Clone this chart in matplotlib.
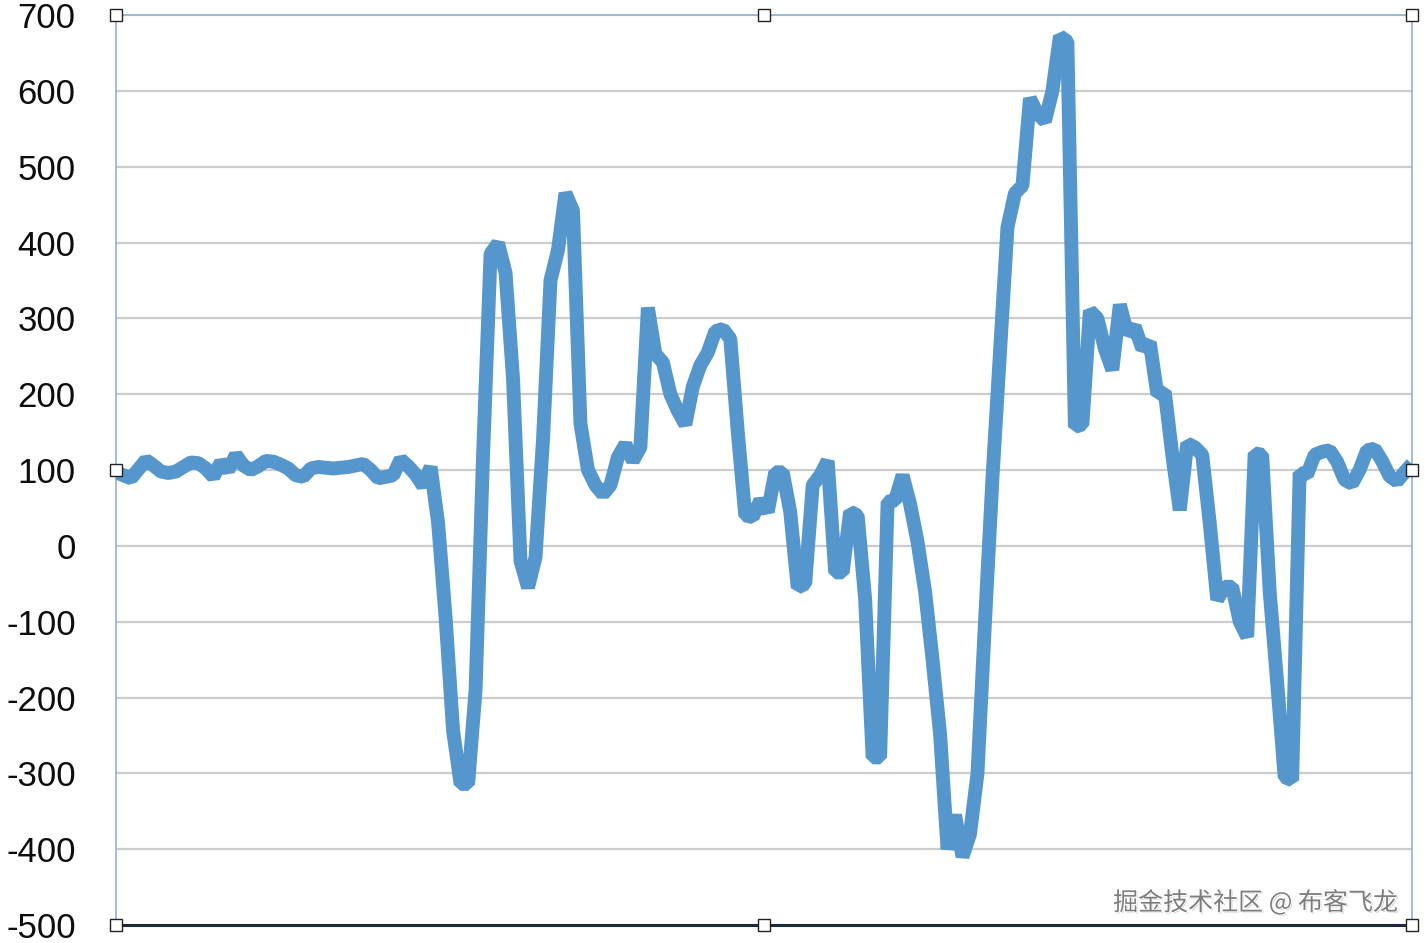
import numpy as np
import matplotlib.pyplot as plt
import matplotlib.patheffects as pe

plt.rcParams['font.family'] = ['Liberation Sans', 'DejaVu Sans']

# sampled signal (evenly spaced samples)
values = [
    97, 93, 89, 101, 113, 106, 98, 96, 98, 104,
    110, 109, 102, 91, 110, 100, 120, 106, 100, 105,
    112, 111, 107, 102, 93, 91, 102, 104, 103, 102,
    103, 104, 106, 108, 100, 89, 91, 93, 114, 105,
    94, 79, 104, 30, -95, -244, -314, -314, -190, 120,
    385, 399, 360, 220, -20, -55, -15, 140, 350, 390,
    465, 442, 161, 100, 80, 68, 80, 117, 134, 112,
    130, 314, 253, 242, 200, 178, 160, 210, 238, 255,
    283, 286, 273, 150, 40, 38, 60, 45, 97, 97,
    45, -55, -50, 80, 93, 112, -35, -35, 45, 40,
    -70, -279, -279, 58, 60, 93, 55, 5, -60, -150,
    -248, -400, -355, -410, -380, -300, -100, 90, 254, 420,
    465, 475, 590, 570, 560, 600, 672, 665, 157, 160,
    310, 300, 260, 232, 318, 280, 289, 260, 268, 200,
    203, 120, 47, 135, 130, 120, 30, -71, -54, -54,
    -100, -120, 122, 120, -60, -180, -305, -309, 96, 94,
    120, 124, 126, 111, 87, 82, 100, 126, 128, 112,
    92, 85, 97, 108,
]
y_ticks = list(range(-500, 701, 100))
watermark = "掘金技术社区 @ 布客飞龙"

x = np.arange(len(values))

fig = plt.figure(figsize=(14.25, 9.43), dpi=100)
ax = fig.add_axes([116 / 1425, 1 - 925 / 943, (1412 - 116) / 1425, (925 - 15) / 943])

ax.plot(x, values, color='#5597cd', linewidth=10,
        solid_joinstyle='bevel', solid_capstyle='butt', zorder=3)

ax.set_xlim(0, len(values) - 1)
ax.set_ylim(-500, 700)
ax.set_yticks(y_ticks)
ax.set_yticklabels([str(v) for v in y_ticks])
ax.set_xticks([])
ax.tick_params(axis='y', length=0, pad=29, labelsize=25, labelcolor='#0d0d0d')

ax.grid(axis='y', color='#cccccc', linewidth=1.6)
ax.set_axisbelow(True)

for s in ['left', 'right', 'top']:
    ax.spines[s].set_color('#9ab6da')
    ax.spines[s].set_linewidth(1.3)
ax.spines['bottom'].set_color('#1e2840')
ax.spines['bottom'].set_linewidth(2.2)

# selection handles around the chart frame
hx = [0, 0.5, 1, 0, 1, 0, 0.5, 1]
hy = [1, 1, 1, 0.5, 0.5, 0, 0, 0]
ax.plot(hx, hy, linestyle='none', marker='s', markersize=8,
        markerfacecolor='white', markeredgecolor='#222222', markeredgewidth=1.0,
        transform=ax.transAxes, clip_on=False, zorder=5)

fig.text(1398 / 1425, 1 - 903 / 943, watermark, ha='right', va='center',
         fontsize=18, color='#7d7d7d',
         family=['Noto Sans CJK SC', 'DejaVu Sans'],
         path_effects=[pe.withSimplePatchShadow(offset=(1, -1), shadow_rgbFace='#c0c0c0', alpha=0.8),
                       pe.withStroke(linewidth=1.5, foreground='white')])

fig.savefig('out.png', dpi=100)
